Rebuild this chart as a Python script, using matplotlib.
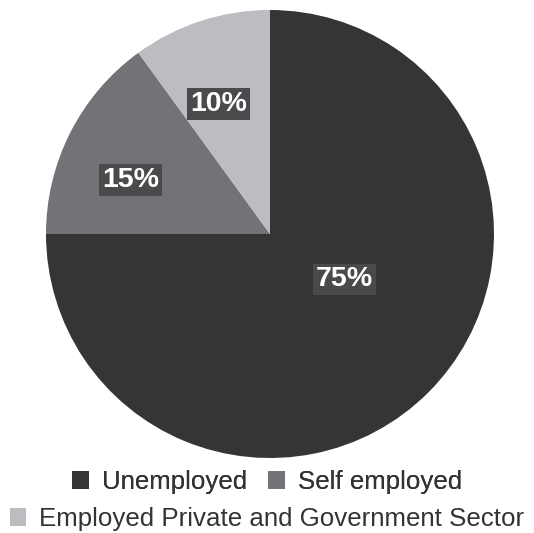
import matplotlib.pyplot as plt
from matplotlib.patches import Patch

categories = ["Unemployed", "Self employed", "Employed Private and Government Sector"]
shares = [75, 15, 10]
colors = ["#363435", "#727376", "#bcbdc0"]

# where each percentage box sits, in axes data units (pie radius = 1)
label_pos = [(0.333, -0.203), (-0.623, 0.241), (-0.23, 0.58)]


def main():
    plt.rcParams["font.family"] = ["Liberation Sans", "DejaVu Sans"]

    fig = plt.figure(figsize=(5.34, 5.33), dpi=100)
    r_px = 224
    cx, cy = 270, 234
    ax = fig.add_axes([(cx - r_px) / 534, (533 - cy - r_px) / 533,
                       2 * r_px / 534, 2 * r_px / 533])

    wedges, _, autotexts = ax.pie(
        shares, colors=colors, startangle=90, counterclock=False,
        autopct="%d%%", radius=1,
        wedgeprops={"linewidth": 0},
        textprops={"color": "white", "fontsize": 20.5, "fontweight": "bold"},
    )
    for t, pos in zip(autotexts, label_pos):
        t.set_position(pos)
        t.set_bbox({"boxstyle": "square,pad=0.1", "facecolor": "#4a4a4c",
                    "edgecolor": "none"})
    ax.set_xlim(-1, 1)
    ax.set_ylim(-1, 1)
    ax.set_aspect("equal")
    ax.axis("off")

    handles = [Patch(facecolor=c, edgecolor="none") for c in colors]
    leg_kw = dict(frameon=False, fontsize=18.6, handlelength=0.65,
                  handleheight=0.65, handletextpad=0.5, columnspacing=0.8,
                  labelcolor="#333333", borderpad=0, borderaxespad=0)
    leg1 = fig.legend(handles[:2], categories[:2], ncol=2, loc="center",
                      bbox_to_anchor=(0.5, 1 - 482 / 533), **leg_kw)
    fig.add_artist(leg1)
    fig.legend(handles[2:], categories[2:], loc="center",
               bbox_to_anchor=(0.5, 1 - 519 / 533), **leg_kw)

    fig.savefig("out.png", dpi=100)


if __name__ == "__main__":
    main()
